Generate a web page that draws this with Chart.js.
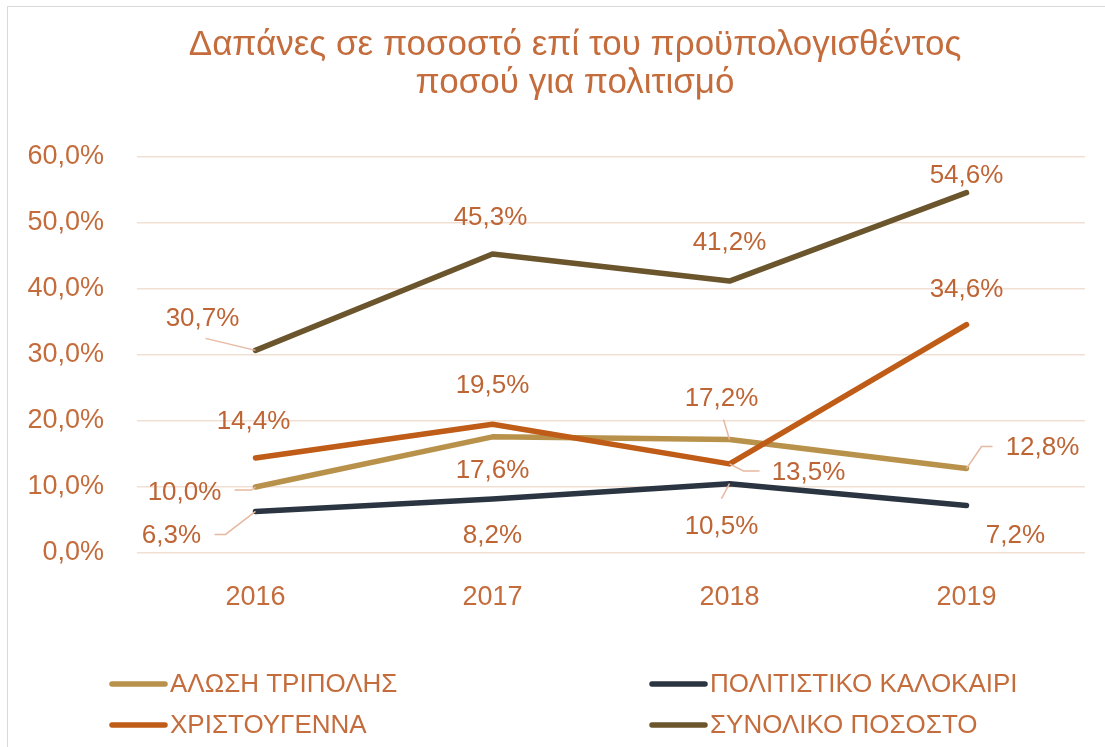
<!DOCTYPE html>
<html>
<head>
<meta charset="utf-8">
<script src="https://cdn.jsdelivr.net/npm/chart.js@4.4.1/dist/chart.umd.min.js"></script>
<style>
  html, body { margin: 0; padding: 0; background: #fff; overflow: hidden; width: 1105px; height: 747px; }
  #box { position: absolute; left: 7px; top: 6px; width: 1134px; height: 745px;
         border-left: 1.5px solid #d9d9d9; border-top: 1.5px solid #d9d9d9; }
  canvas { display: block; }
</style>
</head>
<body>
<div id="box"><canvas id="chart" width="1134" height="745"></canvas></div>
<script>
  // δεδομένα
  const years = ['2016', '2017', '2018', '2019'];
  const seriesNames = ['ΑΛΩΣΗ ΤΡΙΠΟΛΗΣ', 'ΠΟΛΙΤΙΣΤΙΚΟ ΚΑΛΟΚΑΙΡΙ', 'ΧΡΙΣΤΟΥΓΕΝΝΑ', 'ΣΥΝΟΛΙΚΟ ΠΟΣΟΣΤΟ'];
  const alosi = [10.0, 17.6, 17.2, 12.8];
  const kalokairi = [6.3, 8.2, 10.5, 7.2];
  const christougenna = [14.4, 19.5, 13.5, 34.6];
  const synoliko = [30.7, 45.3, 41.2, 54.6];

  const colors = ['#b8914b', '#2b3542', '#bf5c17', '#6b552c'];
  const textColor = '#c46c3c';
  const font = 'Liberation Sans';

  // θέση ετικετών (dx, dy) και γραμμές οδηγοί, ανά σειρά / σημείο
  const labelPos = [
    [[-71, 6, [[0, 0], [-4, 3], [-21, 3]]], [0, 34], [-8, -41, [[0, 0], [-6, -20]]], [76, -21, [[0, 0], [15, -22], [26, -22]]]],
    [[-84, 24, [[0, 0], [-30, 23], [-41, 23]]], [0, 37], [-8, 43, [[0, 0], [-8, 15]]], [49, 30]],
    [[-2, -36], [0, -38], [79, 9, [[0, 0], [14, 7], [30, 7]]], [0, -35]],
    [[-53, -32, [[0, 0], [-50, -12]]], [-2, -36], [0, -38], [0, -17]]
  ];

  const fmt = v => v.toFixed(1).replace('.', ',') + '%';

  const dataLabels = {
    id: 'dataLabels',
    afterDatasetsDraw(chart) {
      const ctx = chart.ctx;
      ctx.save();
      chart.data.datasets.forEach((ds, di) => {
        const meta = chart.getDatasetMeta(di);
        meta.data.forEach((pt, i) => {
          const [dx, dy, leader] = labelPos[di][i];
          if (leader) {
            ctx.strokeStyle = '#e7b9a0';
            ctx.lineWidth = 1.5;
            ctx.beginPath();
            leader.forEach(([lx, ly], k) => {
              if (k === 0) ctx.moveTo(pt.x + lx, pt.y + ly);
              else ctx.lineTo(pt.x + lx, pt.y + ly);
            });
            ctx.stroke();
          }
          ctx.fillStyle = '#bd6535';
          ctx.font = '26px "' + font + '"';
          ctx.textAlign = 'center';
          ctx.textBaseline = 'middle';
          ctx.fillText(fmt(ds.data[i]), pt.x + dx, pt.y + dy);
        });
      });
      ctx.restore();
    }
  };

  const legendBox = {
    id: 'legendBox',
    afterDraw(chart) {
      const ctx = chart.ctx;
      ctx.save();
      const cols = [102, 642];
      const rows = [677, 718];
      chart.data.datasets.forEach((ds, i) => {
        const x = cols[i % 2], y = rows[Math.floor(i / 2)];
        ctx.strokeStyle = ds.borderColor;
        ctx.lineWidth = 5.5;
        ctx.lineCap = 'round';
        ctx.beginPath();
        ctx.moveTo(x + 2, y);
        ctx.lineTo(x + 55, y);
        ctx.stroke();
        ctx.fillStyle = textColor;
        ctx.font = '26px "' + font + '"';
        ctx.textAlign = 'left';
        ctx.textBaseline = 'middle';
        ctx.fillText(ds.label, x + 60, y + 1);
      });
      ctx.restore();
    }
  };

  const seriesData = [alosi, kalokairi, christougenna, synoliko];

  new Chart(document.getElementById('chart'), {
    type: 'line',
    data: {
      labels: years,
      datasets: seriesData.map((d, i) => ({
        label: seriesNames[i],
        data: d,
        borderColor: colors[i],
        backgroundColor: colors[i],
        borderWidth: 5.5,
        borderCapStyle: 'round',
        borderJoinStyle: 'round',
        pointRadius: 0,
        tension: 0,
        order: 3 - i
      }))
    },
    options: {
      responsive: false,
      animation: false,
      layout: { padding: 0 },
      plugins: {
        legend: { display: false },
        tooltip: { enabled: false },
        title: {
          display: true,
          text: ['Δαπάνες σε ποσοστό επί του προϋπολογισθέντος', 'ποσού για πολιτισμό'],
          color: textColor,
          font: { family: font, size: 35, weight: 'normal', lineHeight: 1.1 },
          padding: { top: 19, bottom: 54 }
        }
      },
      scales: {
        x: {
          offset: true,
          grid: { display: false, drawTicks: false },
          border: { display: false },
          ticks: { color: textColor, font: { family: font, size: 27 }, padding: 28 },
          afterFit(scale) { scale.height = 199; }
        },
        y: {
          min: 0,
          max: 60,
          grid: { color: '#f2dfd4', lineWidth: 1.5, drawTicks: false },
          border: { display: false },
          ticks: { stepSize: 10, color: textColor, font: { family: font, size: 27 }, padding: 33, callback: v => fmt(v) },
          afterFit(scale) { scale.width = 129; }
        },
        // κενός χώρος δεξιά
        yRight: {
          position: 'right',
          min: 0,
          max: 60,
          grid: { display: false, drawTicks: false },
          border: { display: false },
          ticks: { display: false },
          afterFit(scale) { scale.width = 57; }
        }
      }
    },
    plugins: [dataLabels, legendBox]
  });
</script>
</body>
</html>
